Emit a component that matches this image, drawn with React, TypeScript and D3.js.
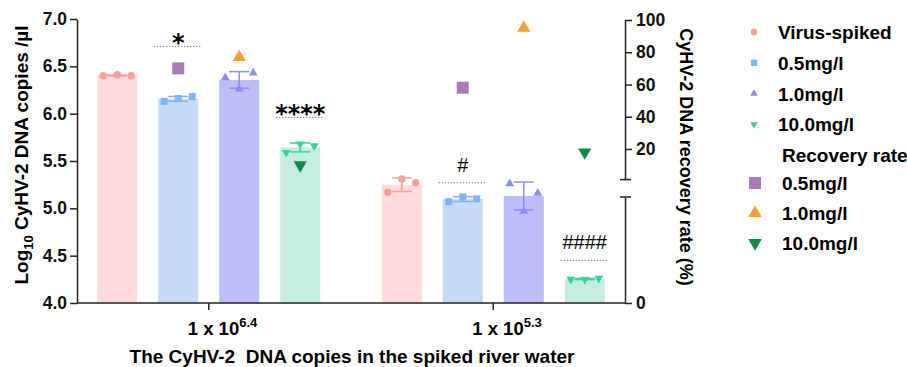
import React, { useEffect, useRef } from "react";
import * as d3 from "d3";

const W = 907;
const H = 367;

// x groups: spiked copies 1 x 10^exp
const groupExponents = ["6.4", "5.3"];
const seriesNames = ["Virus-spiked", "0.5mg/l", "1.0mg/l", "10.0mg/l"];
const recoveryNames = ["0.5mg/l", "1.0mg/l", "10.0mg/l"];

// log10 copies/µl, three replicates per group
const virusSpiked = [[6.40, 6.41, 6.40], [5.17, 5.31, 5.27]];
const pac05 = [[6.13, 6.16, 6.18], [5.07, 5.12, 5.10]];
const pac10 = [[6.38, 6.26, 6.43], [5.26, 4.97, 5.16]];
const pac100 = [[5.59, 5.68, 5.66], [4.25, 4.25, 4.26]];

// recovery rate (%)
const recovery05 = [70, 58];
const recovery10 = [77, 95];
const recovery100 = [10, 18];

// significance marks over each bar and the level of their dotted line
const sigLabels = [["", "*", "", "****"], ["", "#", "", "####"]];
const sigLevels = [[0, 6.71, 0, 5.96], [0, 5.27, 0, 4.45]];

const leftTicks = [4.0, 4.5, 5.0, 5.5, 6.0, 6.5, 7.0];
const rightTicksUpper = [20, 40, 60, 80, 100];
const rightTicksLower = [0];

const barColors = ["#ffdcdc", "#c6daf5", "#bebdf7", "#c6ede2"];
const pointColors = ["#f9a099", "#7db6f5", "#8e8cf2", "#36d2a4"];
const recoveryColors = ["#a97cb8", "#ffa02e", "#0d8c48"];

const FONT = "'Liberation Sans', Arial, sans-serif";

export default function App() {
  const ref = useRef<SVGSVGElement>(null);

  useEffect(() => {
    const svg = d3.select(ref.current);
    svg.selectAll("*").remove();

    const series = [virusSpiked, pac05, pac10, pac100];
    const recovery = [recovery05, recovery10, recovery100];

    const x0 = d3.scalePoint<string>().domain(groupExponents).range([77, 625]).padding(0.463);
    const x1 = d3.scaleBand<string>().domain(seriesNames).range([-111.5, 111.5]).paddingInner(0.344);
    const y = d3.scaleLinear().domain([4, 7]).range([303, 19]);
    const yUp = d3.scaleLinear().domain([1, 100]).range([179.6, 20]);
    const yLow = d3.scaleLinear().domain([0, 1]).range([303, 197]);
    const yR = (v: number) => (v >= 1 ? yUp(v) : yLow(v));

    const g = svg.append("g").style("font-family", FONT);

    // bars, error bars, replicates
    const symbols = [d3.symbolCircle, d3.symbolSquare, d3.symbolTriangle, d3.symbolTriangle];
    const sizes = [44, 50, 34, 34];
    groupExponents.forEach((ge, gi) => {
      const cx0 = x0(ge) as number;
      seriesNames.forEach((sn, si) => {
        const vals = series[si][gi];
        const mean = d3.mean(vals) as number;
        const sd = d3.deviation(vals) as number;
        const bx = cx0 + (x1(sn) as number);
        const cx = bx + x1.bandwidth() / 2;
        g.append("rect")
          .attr("x", bx)
          .attr("y", y(mean))
          .attr("width", x1.bandwidth())
          .attr("height", y(4) - y(mean))
          .attr("fill", barColors[si]);

        const eb = g.append("g").attr("stroke", pointColors[si]).attr("stroke-width", 1.5);
        eb.append("line").attr("x1", cx).attr("x2", cx).attr("y1", y(mean - sd)).attr("y2", y(mean + sd));
        [mean - sd, mean + sd].forEach((v) => {
          eb.append("line").attr("x1", cx - 10).attr("x2", cx + 10).attr("y1", y(v)).attr("y2", y(v));
        });

        vals.forEach((v, k) => {
          const px = cx + (k - 1) * 14;
          g.append("path")
            .attr("d", d3.symbol(symbols[si], sizes[si])() as string)
            .attr("transform", `translate(${px},${y(v)})${si === 3 ? " rotate(180)" : ""}`)
            .attr("fill", pointColors[si]);
        });

        if (sigLabels[gi][si]) {
          const ly = y(sigLevels[gi][si]);
          g.append("line")
            .attr("x1", cx - 24).attr("x2", cx + 24)
            .attr("y1", ly).attr("y2", ly)
            .attr("stroke", "#555").attr("stroke-width", 1)
            .attr("stroke-dasharray", "1,2");
          const isStar = sigLabels[gi][si].startsWith("*");
          g.append("text")
            .attr("x", cx)
            .attr("y", isStar ? ly + 5 : ly - 11)
            .attr("text-anchor", "middle")
            .style("font-family", isStar ? "'DejaVu Sans', sans-serif" : FONT)
            .style("font-weight", isStar ? "bold" : "normal")
            .style("font-size", isStar ? "24px" : "20px")
            .text(sigLabels[gi][si]);
        }
      });

      // recovery rate markers over bars 2-4
      const rSym = [d3.symbolSquare, d3.symbolTriangle, d3.symbolTriangle];
      const rSize = [144, 75, 75];
      recovery.forEach((rv, ri) => {
        const cx = cx0 + (x1(seriesNames[ri + 1]) as number) + x1.bandwidth() / 2;
        g.append("path")
          .attr("d", d3.symbol(rSym[ri], rSize[ri])() as string)
          .attr("transform", `translate(${cx},${yR(rv[gi])})${ri === 2 ? " rotate(180)" : ""}`)
          .attr("fill", recoveryColors[ri]);
      });
    });

    // left axis
    const la = g.append("g").attr("transform", "translate(77,0)")
      .call(d3.axisLeft(y).tickValues(leftTicks).tickFormat(d3.format(".1f")).tickSize(7).tickSizeOuter(0));
    // right axis, broken
    const ra1 = g.append("g").attr("transform", "translate(625,0)")
      .call(d3.axisRight(yUp).tickValues(rightTicksUpper).tickFormat(d3.format("d")).tickSize(7).tickSizeOuter(0));
    const ra2 = g.append("g").attr("transform", "translate(625,0)")
      .call(d3.axisRight(yLow).tickValues(rightTicksLower).tickFormat(d3.format("d")).tickSize(7).tickSizeOuter(0));
    [yUp.range()[0], yLow.range()[1]].forEach((by) => {
      g.append("line").attr("x1", 620).attr("x2", 631).attr("y1", by).attr("y2", by)
        .attr("stroke", "#222").attr("stroke-width", 1.5);
    });
    // x axis
    g.append("line").attr("x1", 77).attr("x2", 625).attr("y1", y(4)).attr("y2", y(4))
      .attr("stroke", "#222").attr("stroke-width", 1.5);
    groupExponents.forEach((ge) => {
      const cx = x0(ge) as number;
      g.append("line").attr("x1", cx).attr("x2", cx).attr("y1", y(4)).attr("y2", y(4) + 7)
        .attr("stroke", "#222").attr("stroke-width", 1.5);
      const t = g.append("text").attr("x", cx - 21).attr("y", 335)
        .style("font-size", "18.5px").style("font-weight", "bold");
      t.append("tspan").text("1 x 10");
      t.append("tspan").attr("dy", -8).style("font-size", "13px").text(ge);
    });

    [la, ra1, ra2].forEach((a) => {
      a.selectAll("path, line").attr("stroke", "#222").attr("stroke-width", 1.5);
      a.selectAll("text").style("font-family", FONT).style("font-size", "17.5px")
        .style("font-weight", "bold").attr("fill", "#111");
    });
    la.selectAll("text").attr("x", -10);
    ra1.selectAll("text").attr("x", 11);
    ra2.selectAll("text").attr("x", 11);

    // axis titles
    const lt = g.append("text")
      .attr("transform", "translate(28,155) rotate(-90)")
      .attr("text-anchor", "middle")
      .style("font-size", "19px").style("font-weight", "bold");
    lt.append("tspan").text("Log");
    lt.append("tspan").attr("dy", 5).style("font-size", "13px").text("10");
    lt.append("tspan").attr("dy", -5).text(" CyHV-2 DNA copies /µl");

    g.append("text")
      .attr("transform", "translate(680,157) rotate(90)")
      .attr("text-anchor", "middle")
      .style("font-size", "18px").style("font-weight", "bold")
      .text("CyHV-2 DNA recovery rate (%)");

    g.append("text")
      .attr("x", 352).attr("y", 363)
      .attr("text-anchor", "middle")
      .style("font-size", "19px").style("font-weight", "bold")
      .style("white-space", "pre")
      .text("The CyHV-2  DNA copies in the spiked river water");

    // legend
    const lg = g.append("g").style("font-size", "19px").style("font-weight", "bold");
    const legSizes = [34, 40, 26, 26];
    seriesNames.forEach((sn, i) => {
      const ly = 32 + i * 30.8;
      lg.append("path")
        .attr("d", d3.symbol(symbols[i], legSizes[i])() as string)
        .attr("transform", `translate(754,${ly})${i === 3 ? " rotate(180)" : ""}`)
        .attr("fill", pointColors[i]);
      lg.append("text").attr("x", 778).attr("y", ly + 7).text(sn);
    });
    lg.append("text").attr("x", 782).attr("y", 162).text("Recovery rate");
    recoveryNames.forEach((rn, i) => {
      const ly = 183 + i * 30;
      const rSym = [d3.symbolSquare, d3.symbolTriangle, d3.symbolTriangle];
      const rSize = [144, 80, 80];
      lg.append("path")
        .attr("d", d3.symbol(rSym[i], rSize[i])() as string)
        .attr("transform", `translate(755,${ly})${i === 2 ? " rotate(180)" : ""}`)
        .attr("fill", recoveryColors[i]);
      lg.append("text").attr("x", 782).attr("y", ly + 7).text(rn);
    });
  }, []);

  return (
    <svg ref={ref} width={W} height={H} style={{ display: "block", position: "absolute", left: 0, top: 0, background: "#fff" }} />
  );
}
